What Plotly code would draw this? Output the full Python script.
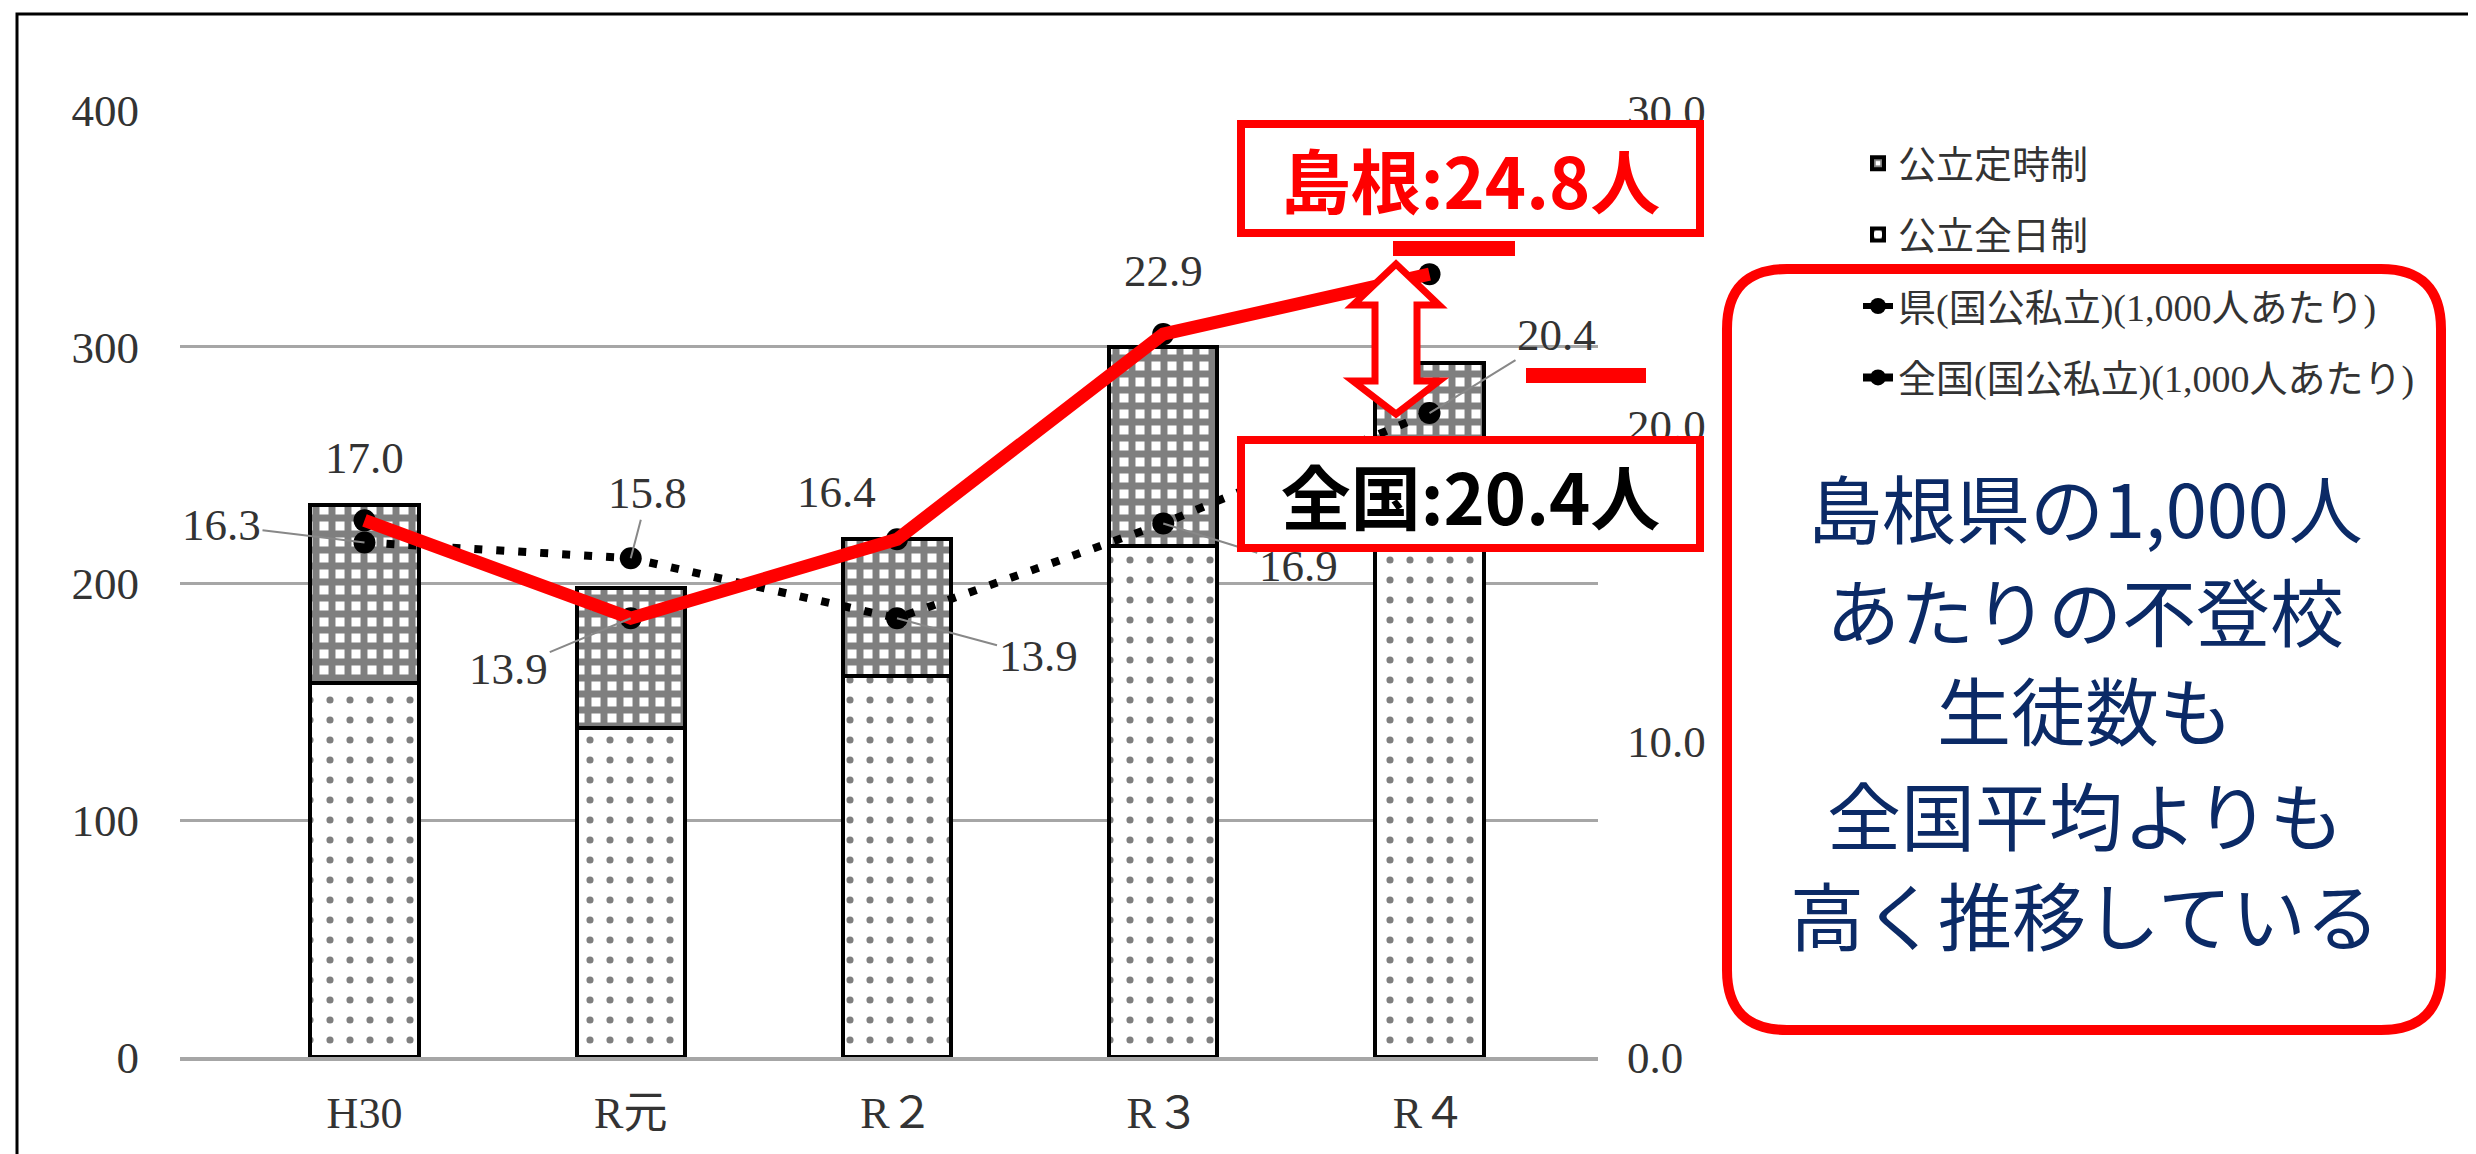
import plotly.graph_objects as go

# ---------------- data ----------------
years = ["H30", "R元", "R２", "R３", "R４"]
teiji = [75, 59, 58, 84, 79]            # 公立定時制
zennichi = [158, 139, 161, 216, 214]    # 公立全日制
ken = [17.0, 13.9, 16.4, 22.9, 24.8]    # 県(国公私立)(1,000人あたり)
zenkoku = [16.3, 15.8, 13.9, 16.9, 20.4]  # 全国(国公私立)(1,000人あたり)
left_ticks = [0, 100, 200, 300, 400]
right_ticks = [0, 10, 20, 30]

W, H = 2476, 1154
L, R, T, B = 172, 1590, 102, 1049


def px(x):
    return (x - L) / (R - L)


def py(y):
    return (B - y) / (B - T)


SERIF = "Liberation Serif, Noto Sans CJK JP, serif"
GOTHIC = "Noto Sans CJK JP, sans-serif"
TXT = "#333333"

fig = go.Figure()

fig.add_trace(go.Bar(
    x=years, y=zennichi, name="公立全日制", legendgroup="g2", legendrank=2,
    marker=dict(color="white", line=dict(color="black", width=4),
                pattern=dict(shape=".", fgcolor="black", bgcolor="white",
                             size=20, solidity=0.1)),
))
fig.add_trace(go.Bar(
    x=years, y=teiji, name="公立定時制", legendgroup="g1", legendrank=1,
    marker=dict(color="white", line=dict(color="black", width=4),
                pattern=dict(shape="+", fgcolor="black", bgcolor="white",
                             size=16, solidity=0.68)),
))
fig.add_trace(go.Scatter(
    x=years, y=zenkoku, yaxis="y2", name="全国(国公私立)(1,000人あたり)",
    legendgroup="g4", legendrank=4, mode="lines+markers",
    line=dict(color="black", width=8, dash="8px,14px"),
    marker=dict(color="black", size=22),
))
fig.add_trace(go.Scatter(
    x=years, y=ken, yaxis="y2", name="県(国公私立)(1,000人あたり)",
    legendgroup="g3", legendrank=3, mode="lines+markers",
    line=dict(color="black", width=6),
    marker=dict(color="black", size=22),
))
# red highlight drawn over the prefecture line
fig.add_trace(go.Scatter(
    x=years, y=ken, yaxis="y2", mode="lines", showlegend=False,
    line=dict(color="#ff0000", width=13), hoverinfo="skip",
))

ann = []
lab_font = dict(family=SERIF, size=45, color=TXT)
# prefecture labels (index 4 is covered by the callout box)
ken_pos = [(0, 0, 62, False), (1, None, None, True), (2, -61, 47, False), (3, 0, 63, False)]
for i, dx, dy, arrow in ken_pos:
    if arrow:
        ann.append(dict(x=years[i], y=ken[i], xref="x", yref="y2", text=f"{ken[i]:.1f}",
                        showarrow=True, ax=-122, ay=51, arrowhead=0, arrowwidth=2,
                        arrowcolor="#888888", font=lab_font))
    else:
        ann.append(dict(x=years[i], y=ken[i], xref="x", yref="y2", text=f"{ken[i]:.1f}",
                        showarrow=False, xshift=dx, yshift=dy, font=lab_font))
zen_off = [(-143, -17), (17, -65), (141, 38), (135, 42), (127, -78)]
for i, (ax, ay) in enumerate(zen_off):
    ann.append(dict(x=years[i], y=zenkoku[i], xref="x", yref="y2", text=f"{zenkoku[i]:.1f}",
                    showarrow=True, ax=ax, ay=ay, arrowhead=0, arrowwidth=2,
                    arrowcolor="#888888", font=lab_font))

# callout boxes
ann.append(dict(x=px(1462), y=py(170), xref="paper", yref="paper",
                text="<b>島根:24.8人</b>", showarrow=False,
                font=dict(family=GOTHIC, size=70, color="#ff0000"),
                bgcolor="white", bordercolor="#ff0000", borderwidth=8,
                width=449, height=99, xanchor="center", yanchor="middle"))
ann.append(dict(x=px(1462), y=py(486), xref="paper", yref="paper",
                text="<b>全国:20.4人</b>", showarrow=False,
                font=dict(family=GOTHIC, size=70, color="black"),
                bgcolor="white", bordercolor="#ff0000", borderwidth=8,
                width=449, height=98, xanchor="center", yanchor="middle"))

# message text
msg = ["島根県の1,000人", "あたりの不登校", "生徒数も", "全国平均よりも", "高く推移している"]
msg_y = [497, 600, 700, 804, 904]
for t, yy in zip(msg, msg_y):
    ann.append(dict(x=px(2077), y=py(yy), xref="paper", yref="paper", text=t,
                    showarrow=False, font=dict(family=GOTHIC, size=74, color="#0b2a66"),
                    xanchor="center", yanchor="middle"))

shapes = []
# outer frame
shapes.append(dict(type="rect", xref="paper", yref="paper",
                   x0=px(9), x1=px(2470), y0=py(1165), y1=py(6),
                   line=dict(color="black", width=3), layer="below"))
# red marker bars
for x0, x1, y0, y1 in [(1385, 1507, 233, 248), (1518, 1638, 360, 375)]:
    shapes.append(dict(type="rect", xref="paper", yref="paper",
                       x0=px(x0), x1=px(x1), y0=py(y1), y1=py(y0),
                       fillcolor="#ff0000", line=dict(width=0), layer="above"))
# double-headed arrow
pts = [(1388, 256), (1431, 297), (1409, 297), (1409, 373), (1431, 373), (1388, 406),
       (1345, 373), (1367, 373), (1367, 297), (1345, 297)]
path = "M" + " L".join(f"{px(a):.5f},{py(b):.5f}" for a, b in pts) + " Z"
shapes.append(dict(type="path", xref="paper", yref="paper", path=path,
                   fillcolor="white", line=dict(color="#ff0000", width=7), layer="above"))
# rounded red rectangle
x0, x1, y0, y1, r = 1719, 2433, 261, 1022, 60


def P(a, b):
    return f"{px(a):.5f},{py(b):.5f}"


rr = (f"M{P(x0 + r, y0)} L{P(x1 - r, y0)} Q{P(x1, y0)} {P(x1, y0 + r)} "
      f"L{P(x1, y1 - r)} Q{P(x1, y1)} {P(x1 - r, y1)} L{P(x0 + r, y1)} "
      f"Q{P(x0, y1)} {P(x0, y1 - r)} L{P(x0, y0 + r)} Q{P(x0, y0)} {P(x0 + r, y0)} Z")
shapes.append(dict(type="path", xref="paper", yref="paper", path=rr,
                   line=dict(color="#ff0000", width=10), layer="above"))

fig.update_layout(
    width=W, height=H, autosize=False,
    margin=dict(l=L, r=W - R, t=T, b=H - B, pad=0),
    paper_bgcolor="white", plot_bgcolor="white",
    barmode="stack", bargap=0.594,
    font=dict(family=SERIF, color=TXT),
    xaxis=dict(type="category", showgrid=False, showline=True, linecolor="#a6a6a6",
               linewidth=4, ticks="", tickfont=dict(family=SERIF, size=44, color=TXT),
               ticklabelstandoff=14),
    yaxis=dict(range=[0, 400], tickvals=left_ticks, showgrid=True, gridcolor="#a6a6a6",
               gridwidth=3, zeroline=False, showline=False, ticks="",
               tickfont=dict(family=SERIF, size=45, color=TXT), ticklabelstandoff=40),
    yaxis2=dict(range=[0, 30], tickvals=right_ticks, tickformat=".1f", overlaying="y",
                side="right", showgrid=False, zeroline=False, showline=False, ticks="",
                tickfont=dict(family=SERIF, size=45, color=TXT), ticklabelstandoff=28),
    legend=dict(x=px(1850), y=py(124), xanchor="left", yanchor="top",
                traceorder="grouped", tracegroupgap=19, bgcolor="rgba(0,0,0,0)",
                font=dict(family=SERIF, size=38, color=TXT), itemwidth=30),
    annotations=ann, shapes=shapes,
    hovermode=False,
)

fig.write_html("out.html")
